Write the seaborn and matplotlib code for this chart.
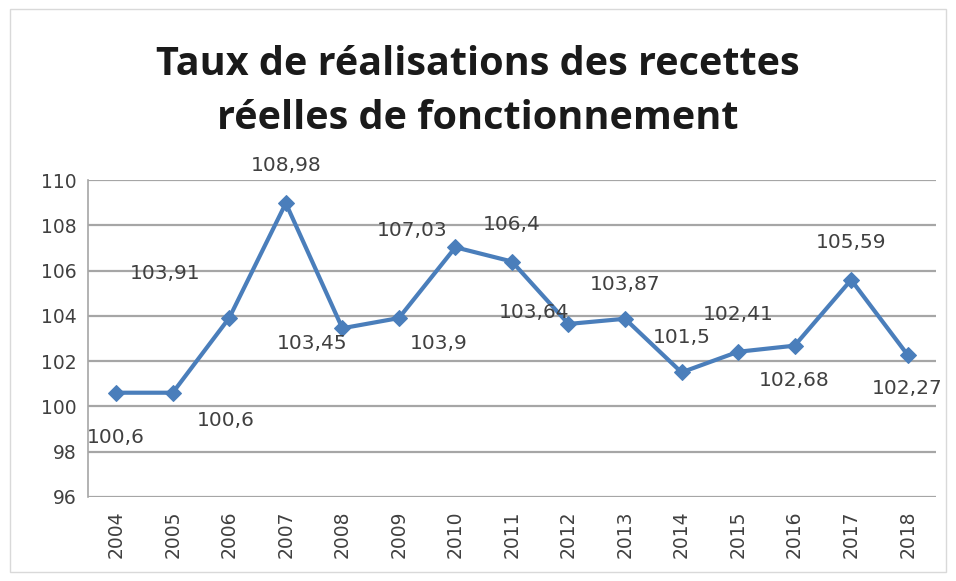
import matplotlib
matplotlib.use("Agg")
import matplotlib.pyplot as plt
from matplotlib.patches import Rectangle
from matplotlib.ticker import FixedLocator, NullFormatter
import seaborn as sns
import pandas as pd

# ==========================================================
# Data
# ==========================================================

years = ["2004", "2005", "2006", "2007", "2008", "2009", "2010", "2011",
         "2012", "2013", "2014", "2015", "2016", "2017", "2018"]

taux = [100.6, 100.6, 103.91, 108.98, 103.45, 103.9, 107.03, 106.4,
        103.64, 103.87, 101.5, 102.41, 102.68, 105.59, 102.27]

labels = ["100,6", "100,6", "103,91", "108,98", "103,45", "103,9", "107,03",
          "106,4", "103,64", "103,87", "101,5", "102,41", "102,68",
          "105,59", "102,27"]

y_ticks = [96, 98, 100, 102, 104, 106, 108, 110]

# label offsets in points (x, y) relative to each point
offsets = [(0, -32), (38, -20), (-46, 32), (0, 27), (-22, -11), (29, -18),
           (-31, 12), (0, 27), (-25, 8), (0, 25), (0, 25), (0, 27),
           (0, -25), (0, 27), (0, -24)]

df = pd.DataFrame({"year": years, "taux": taux})

# ==========================================================
# Figure
# ==========================================================

sns.set_style("white")
plt.rcParams["font.family"] = ["DejaVu Sans"]

fig = plt.figure(figsize=(9.56, 5.81), dpi=100)
ax = fig.add_axes([0.092, 0.145, 0.887, 0.545])

sns.lineplot(data=df, x="year", y="taux", ax=ax, color="#4a7ebb",
             linewidth=3, marker="D", markersize=8,
             markeredgecolor="#4a7ebb", sort=False)

for i, (lab, off) in enumerate(zip(labels, offsets)):
    ax.annotate(lab, (i, taux[i]), xytext=off, textcoords="offset points",
                ha="center", va="center", fontsize=14.5, color="#404040")

ax.set_xlim(-0.5, len(years) - 0.5)
ax.set_ylim(96, 110)
ax.set_yticks(y_ticks)
ax.set_yticklabels([str(t) for t in y_ticks], fontsize=13.5, color="#404040")
ax.set_xticks(range(len(years)))
ax.set_xticklabels(years, rotation=90, fontsize=13.5, color="#404040")

ax.xaxis.set_minor_locator(FixedLocator([i - 0.5 for i in range(len(years) + 1)]))
ax.xaxis.set_minor_formatter(NullFormatter())
ax.tick_params(axis="x", which="major", length=0, pad=10)
ax.tick_params(axis="x", which="minor", length=7, color="#a6a6a6", width=1.2)
ax.tick_params(axis="y", length=0, pad=8)

ax.grid(axis="y", color="#a6a6a6", linewidth=1.6)
ax.set_axisbelow(True)
for side in ["top", "right", "bottom"]:
    ax.spines[side].set_visible(False)
ax.spines["left"].set_color("#a6a6a6")
ax.spines["left"].set_linewidth(1.2)

ax.set_xlabel("")
ax.set_ylabel("")

fig.text(0.5, 0.843, "Taux de réalisations des recettes\nréelles de fonctionnement",
         ha="center", va="center", fontsize=28.5, fontweight="bold",
         family="Open Sans", color="#1a1a1a", linespacing=1.5)

fig.patches.append(Rectangle((0.01, 0.015), 0.98, 0.97, transform=fig.transFigure,
                             fill=False, edgecolor="#d9d9d9", linewidth=1))

fig.savefig("out.png", dpi=100)
